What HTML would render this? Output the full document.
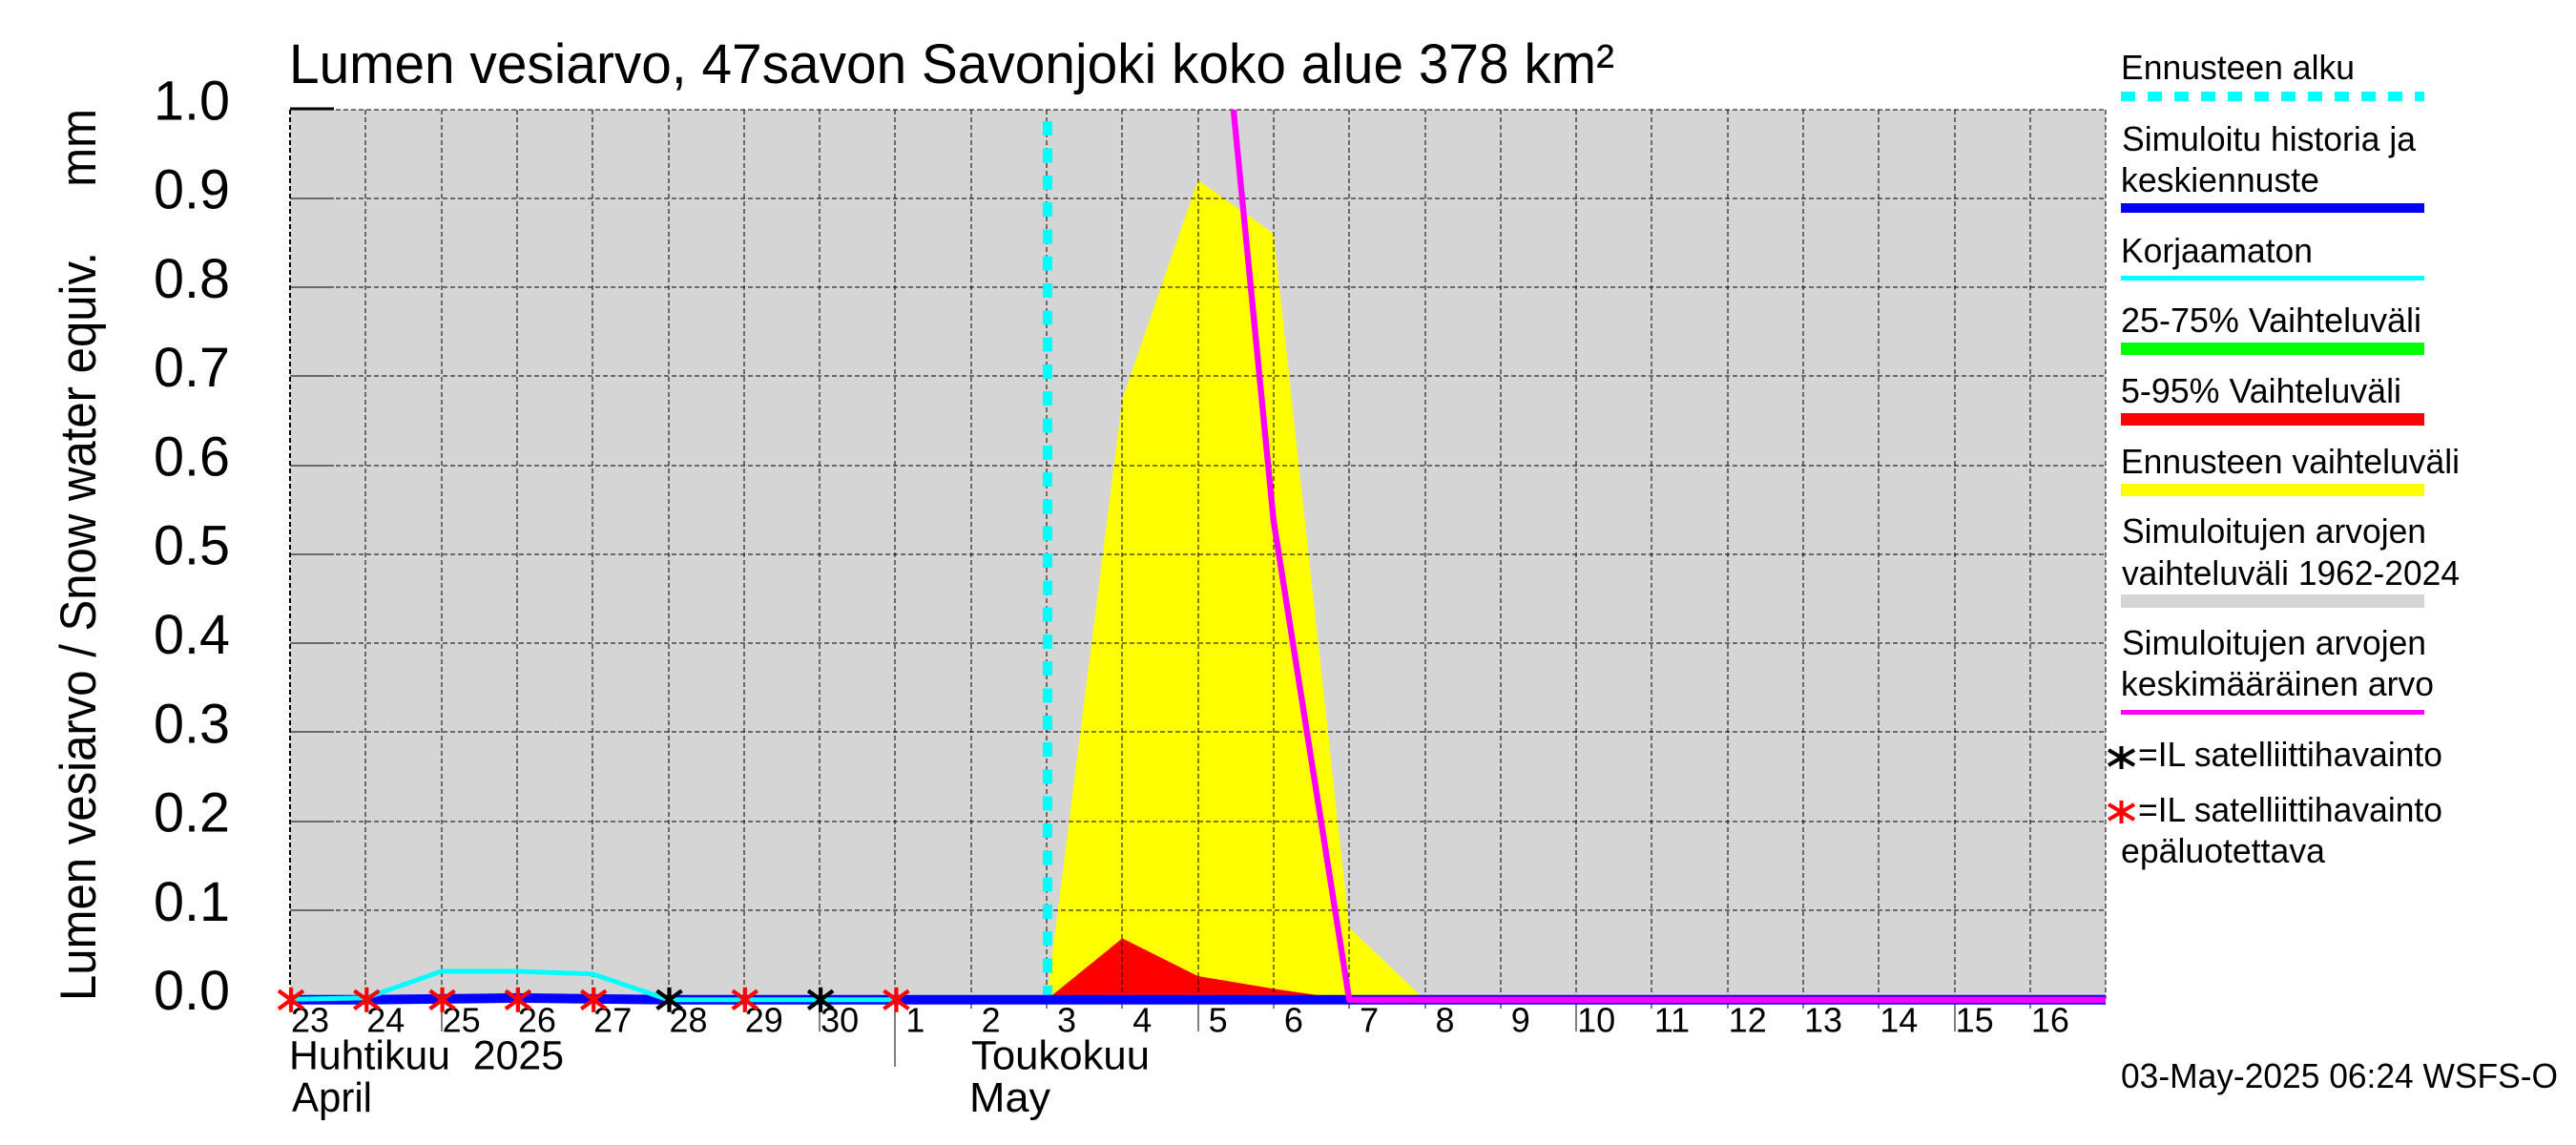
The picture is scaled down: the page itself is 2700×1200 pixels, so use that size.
<!DOCTYPE html>
<html lang="fi">
<head>
<meta charset="utf-8">
<title>Lumen vesiarvo</title>
<style>
html,body{margin:0;padding:0;background:#fff;width:2700px;height:1200px;overflow:hidden}
svg{display:block}
text{font-family:"Liberation Sans",sans-serif;fill:#000;white-space:pre}
.lg{font-size:36px}
</style>
</head>
<body>
<svg id="chart" xmlns="http://www.w3.org/2000/svg" width="2700" height="1200" viewBox="0 0 2700 1200">
  <rect x="0" y="0" width="2700" height="1200" fill="#ffffff"/>
  <defs><clipPath id="plotClip"><rect x="304" y="115" width="1903" height="945"/></clipPath></defs>
  <rect x="304" y="115" width="1903" height="932" fill="#d5d5d5"/>
  <g id="layerFill" clip-path="url(#plotClip)"></g>
  <g id="layerGrid" shape-rendering="crispEdges"></g>
  <g id="layerLines" clip-path="url(#plotClip)"></g>
  <g id="layerTicks"></g>
  <g id="layerMarks"></g>

  <text x="303" y="87" font-size="58" textLength="1389" lengthAdjust="spacingAndGlyphs">Lumen vesiarvo, 47savon Savonjoki koko alue 378 km²</text>
  <text transform="translate(100,1049) rotate(-90)" font-size="53" textLength="935" lengthAdjust="spacingAndGlyphs">Lumen vesiarvo / Snow water equiv.     mm</text>

  <text x="303" y="1120.5" font-size="43" textLength="288" lengthAdjust="spacingAndGlyphs">Huhtikuu  2025</text>
  <text x="306" y="1165" font-size="44" textLength="84" lengthAdjust="spacingAndGlyphs">April</text>
  <text x="1018" y="1120.5" font-size="43" textLength="187" lengthAdjust="spacingAndGlyphs">Toukokuu</text>
  <text x="1016" y="1165" font-size="44" textLength="85" lengthAdjust="spacingAndGlyphs">May</text>

  <g>
    <text class="lg" x="2223" y="83" textLength="245" lengthAdjust="spacingAndGlyphs">Ennusteen alku</text>
    <line x1="2223" y1="101" x2="2541" y2="101" stroke="#00ffff" stroke-width="10" stroke-dasharray="15 13" shape-rendering="crispEdges"/>
    <text class="lg" x="2224" y="158" textLength="308" lengthAdjust="spacingAndGlyphs">Simuloitu historia ja</text>
    <text class="lg" x="2223" y="201" textLength="208" lengthAdjust="spacingAndGlyphs">keskiennuste</text>
    <rect x="2223" y="213" width="318" height="10" fill="#0000ff"/>
    <text class="lg" x="2223" y="275" textLength="201" lengthAdjust="spacingAndGlyphs">Korjaamaton</text>
    <rect x="2223" y="289" width="318" height="5" fill="#00ffff"/>
    <text class="lg" x="2223" y="348" textLength="315" lengthAdjust="spacingAndGlyphs">25-75% Vaihteluväli</text>
    <rect x="2223" y="359" width="318" height="13" fill="#00ff00"/>
    <text class="lg" x="2223" y="422" textLength="294" lengthAdjust="spacingAndGlyphs">5-95% Vaihteluväli</text>
    <rect x="2223" y="433" width="318" height="13" fill="#ff0000"/>
    <text class="lg" x="2223" y="496" textLength="355" lengthAdjust="spacingAndGlyphs">Ennusteen vaihteluväli</text>
    <rect x="2223" y="507" width="318" height="13" fill="#ffff00"/>
    <text class="lg" x="2224" y="569" textLength="319" lengthAdjust="spacingAndGlyphs">Simuloitujen arvojen</text>
    <text class="lg" x="2224" y="613" textLength="354" lengthAdjust="spacingAndGlyphs">vaihteluväli 1962-2024</text>
    <rect x="2223" y="623" width="318" height="14" fill="#d5d5d5"/>
    <text class="lg" x="2224" y="686" textLength="319" lengthAdjust="spacingAndGlyphs">Simuloitujen arvojen</text>
    <text class="lg" x="2223" y="729" textLength="328" lengthAdjust="spacingAndGlyphs">keskimääräinen arvo</text>
    <rect x="2223" y="744" width="318" height="5" fill="#ff00ff"/>
    <g stroke="#000000" stroke-width="4">
      <line x1="2223.5" y1="782" x2="2223.5" y2="806"/><line x1="2210" y1="786" x2="2237" y2="802"/><line x1="2210" y1="802" x2="2237" y2="786"/>
    </g>
    <text class="lg" x="2241" y="803" textLength="319" lengthAdjust="spacingAndGlyphs">=IL satelliittihavainto</text>
    <g stroke="#ff0000" stroke-width="4">
      <line x1="2223.5" y1="839" x2="2223.5" y2="863"/><line x1="2210" y1="843" x2="2237" y2="859"/><line x1="2210" y1="859" x2="2237" y2="843"/>
    </g>
    <text class="lg" x="2241" y="861" textLength="319" lengthAdjust="spacingAndGlyphs">=IL satelliittihavainto</text>
    <text class="lg" x="2223" y="904" textLength="214" lengthAdjust="spacingAndGlyphs">epäluotettava</text>
  </g>
  <text class="lg" x="2223" y="1140" textLength="458" lengthAdjust="spacingAndGlyphs">03-May-2025 06:24 WSFS-O</text>
</svg>
<script>
// Day labels along the x axis: index 0 is 23 April.
var dayLabels = ['23','24','25','26','27','28','29','30','1','2','3','4','5','6','7','8','9','10','11','12','13','14','15','16'];
var yTickValues = [0.0,0.1,0.2,0.3,0.4,0.5,0.6,0.7,0.8,0.9,1.0];
var forecastStartDay = 10.01;
// Day indices and values for each series.
var rangeDays = [10,11,12,13,14,15];
var forecastRangeTop = [0,0.675,0.921,0.861,0.081,0];
var band595Days = [10,11,12,13,14];
var band595Top = [0,0.069,0.0266,0.0123,0];
var simulatedDays = [0,1,2,3,4,5,6,7,8,9,10,11,12,13,14,15,16,17,18,19,20,21,22,23,24];
var simulatedValues = [0,0,0.001,0.002,0.001,0,0,0,0,0,0,0,0,0,0,0,0,0,0,0,0,0,0,0,0];
var uncorrectedDays = [0,1,2,3,4,5,6,7,8];
var uncorrectedValues = [0.0005,0.002,0.032,0.032,0.029,0,0,0,0];
var meanDays = [12,13,14,15,16,17,18,19,20,21,22,23,24];
var meanValues = [1.41,0.538,0,0,0,0,0,0,0,0,0,0,0];
var satelliteReliableDays = [5,7];
var satelliteUnreliableDays = [0,1,2,3,4,6,8];
var satelliteValue = 0;

var SVGNS = 'http://www.w3.org/2000/svg';
function xOf(day){ return 304 + 79.3 * day; }
function yOf(v){ return 1047.8 - 932.8 * v; }
function mk(tag, parent, attrs){
  var el = document.createElementNS(SVGNS, tag);
  for (var k in attrs){ el.setAttribute(k, attrs[k]); }
  parent.appendChild(el);
  return el;
}
function pts(days, vals){
  return days.map(function(d,i){ return xOf(d).toFixed(1) + ',' + yOf(vals[i]).toFixed(1); }).join(' ');
}
function areaPts(days, vals){
  return xOf(days[0]).toFixed(1) + ',' + yOf(0).toFixed(1) + ' ' + pts(days, vals) + ' ' + xOf(days[days.length-1]).toFixed(1) + ',' + yOf(0).toFixed(1);
}
var layerFill = document.getElementById('layerFill');
var layerGrid = document.getElementById('layerGrid');
var layerLines = document.getElementById('layerLines');
var layerTicks = document.getElementById('layerTicks');
var layerMarks = document.getElementById('layerMarks');
var el;

el = mk('polygon', layerFill, {points: areaPts(rangeDays, forecastRangeTop), fill: '#ffff00'});


el = mk('polygon', layerFill, {points: areaPts(band595Days, band595Top), fill: '#ff0000'});



// Horizontal grid and y axis
yTickValues.forEach(function(v){
  var y = Math.round(yOf(v) - 0.5);
  var g = mk('line', layerGrid, {x1: 304, y1: y, x2: 2207, y2: y, stroke: '#000', 'stroke-width': 1, 'stroke-dasharray': '5 3'});
  
  
  var t = mk('line', layerGrid, {x1: 304, y1: v === 1 ? y - 1 : y, x2: 350, y2: v === 1 ? y - 1 : y, stroke: '#000', 'stroke-width': v === 1 ? 3 : 1});
  
  
  var s = document.createElementNS(SVGNS, 'text');
  s.textContent = v.toFixed(1);
  s.setAttribute('x', 161);
  s.setAttribute('y', yOf(v) + 10.3);
  s.setAttribute('font-size', 58);
  s.setAttribute('textLength', 80);
  s.setAttribute('lengthAdjust', 'spacingAndGlyphs');
  
  
  layerTicks.appendChild(s);
});

// Vertical grid, x ticks and day labels
dayLabels.forEach(function(lbl, i){
  var x = Math.round(xOf(i));
  var g = mk('line', layerGrid, {x1: x, y1: 115, x2: x, y2: 1047, stroke: '#000', 'stroke-width': i === 0 ? 2 : 1, 'stroke-dasharray': '5 3'});
  
  
  var n = parseInt(lbl, 10);
  var bottom = (n === 1) ? 1118 : (n % 5 === 0 ? 1081 : 1057);
  var t = mk('line', layerGrid, {x1: x, y1: 1047, x2: x, y2: bottom, stroke: '#000', 'stroke-width': 1});
  
  
  var s = document.createElementNS(SVGNS, 'text');
  s.textContent = lbl;
  s.setAttribute('x', xOf(i) + 21);
  s.setAttribute('y', 1081.5);
  s.setAttribute('font-size', 36);
  s.setAttribute('text-anchor', 'middle');
  
  
  layerTicks.appendChild(s);
});
el = mk('line', layerGrid, {x1: 2207, y1: 115, x2: 2207, y2: 1047, stroke: '#000', 'stroke-width': 1, 'stroke-dasharray': '5 3'});



// Series
el = mk('line', layerLines, {x1: xOf(forecastStartDay), y1: yOf(0), x2: xOf(forecastStartDay), y2: 115, stroke: '#00ffff', 'stroke-width': 10, 'stroke-dasharray': '15 13.3', 'shape-rendering': 'crispEdges'});


el = mk('polyline', layerLines, {points: pts(simulatedDays, simulatedValues), fill: 'none', stroke: '#0000ff', 'stroke-width': 10, 'stroke-linejoin': 'round'});


el = mk('polyline', layerLines, {points: pts(uncorrectedDays, uncorrectedValues), fill: 'none', stroke: '#00ffff', 'stroke-width': 5, 'stroke-linejoin': 'round'});


el = mk('polyline', layerLines, {points: pts(meanDays, meanValues), fill: 'none', stroke: '#ff00ff', 'stroke-width': 6.3, 'stroke-linejoin': 'round'});



// Observation stars
function star(day, colour, name){
  var cx = xOf(day) + 1, cy = yOf(satelliteValue);
  var g = mk('g', layerMarks, {stroke: colour, 'stroke-width': 4.2});
  
  
  mk('line', g, {x1: cx, y1: cy - 13, x2: cx, y2: cy + 13});
  mk('line', g, {x1: cx - 13, y1: cy - 9.5, x2: cx + 13, y2: cy + 9.5});
  mk('line', g, {x1: cx - 13, y1: cy + 9.5, x2: cx + 13, y2: cy - 9.5});
}
satelliteUnreliableDays.forEach(function(d){ star(d, '#ff0000', 'satellite-observation-unreliable'); });
satelliteReliableDays.forEach(function(d){ star(d, '#000000', 'satellite-observation'); });
</script>
</body>
</html>
